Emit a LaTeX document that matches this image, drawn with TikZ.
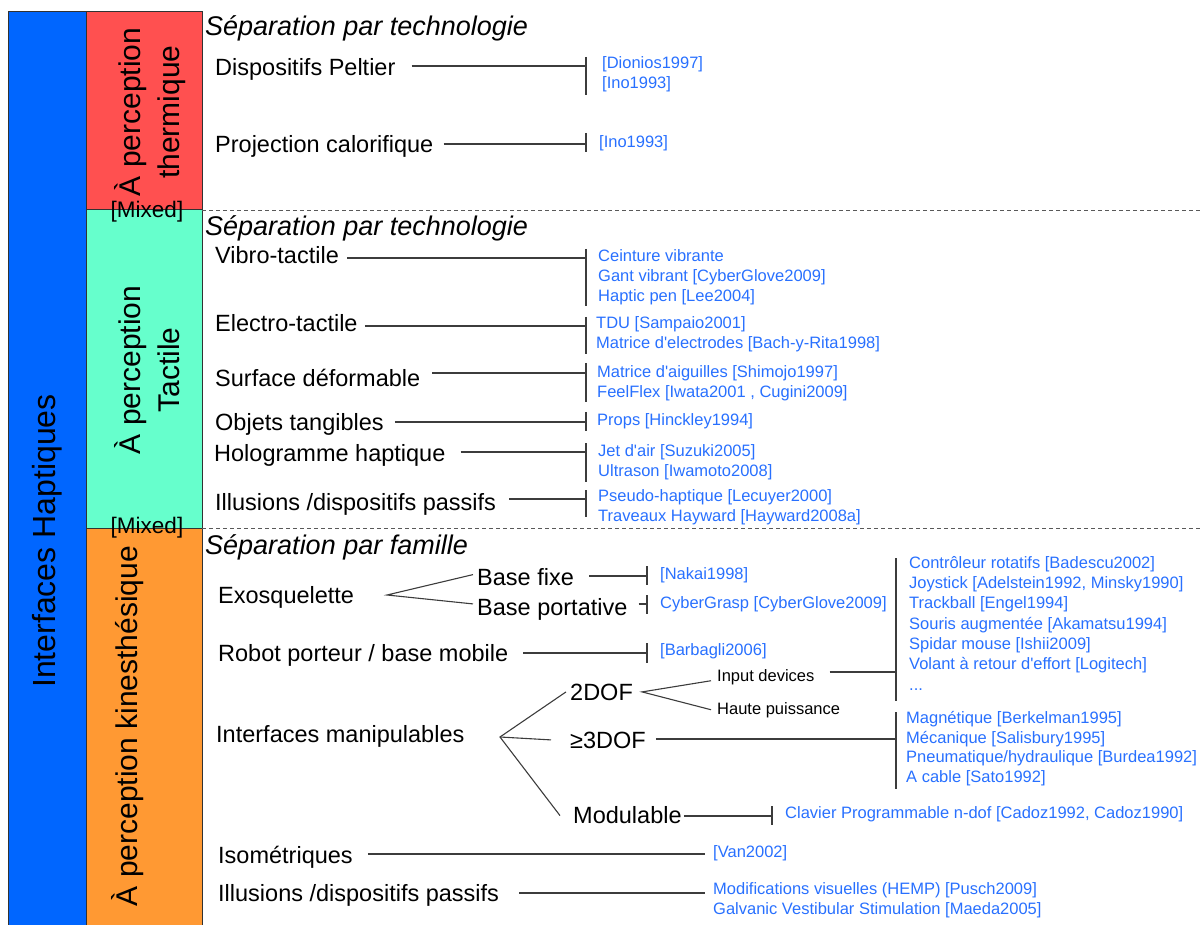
\documentclass[tikz,border=0pt]{standalone}
\usepackage{fontspec}
\setmainfont{Liberation Sans}
\usetikzlibrary{calc}
\definecolor{hblue}{RGB}{0,102,255}
\definecolor{hred}{RGB}{255,80,80}
\definecolor{hgreen}{RGB}{102,255,204}
\definecolor{horange}{RGB}{255,153,51}
\definecolor{refblue}{RGB}{40,112,255}
\definecolor{linegray}{RGB}{60,60,60}
\definecolor{boxgray}{RGB}{50,50,50}
\begin{document}
\begin{tikzpicture}[x=1pt,y=-1pt,
  lab/.style={anchor=base west,inner sep=0pt,font=\fontsize{23.5}{28}\selectfont},
  sub/.style={anchor=base west,inner sep=0pt,font=\fontsize{16.5}{20}\selectfont},
  ref/.style={anchor=north west,inner sep=0pt,align=left,text=refblue,font=\fontsize{16.5}{20.3}\selectfont},
  hdr/.style={anchor=base west,inner sep=0pt,font=\fontsize{27}{30}\selectfont\itshape},
  conn/.style={draw=linegray,line width=1.1pt},
  box/.style={draw=boxgray,line width=1pt},
  sep/.style={draw=gray!70!black,line width=0.8pt,dash pattern=on 4pt off 3pt},
  vlab/.style={rotate=90,inner sep=0pt,align=center,font=\fontsize{30}{39}\selectfont},
  mixed/.style={inner sep=0pt,font=\fontsize{22.5}{24}\selectfont}
]
\useasboundingbox (0,0) rectangle (1203,925);

% coloured columns
\draw[box,fill=hblue] (8,12) rectangle (86,935);
\draw[box,fill=hred] (86,12) rectangle (202,210);
\draw[box,fill=hgreen] (86,210) rectangle (202,528);
\draw[box,fill=horange] (86,528) rectangle (202,935);
\draw[sep] (202,210) -- (1203,210);
\draw[sep] (202,528) -- (1203,528);

\node[vlab,font=\fontsize{32}{39}\selectfont] (hapt) at (47,541) {Interfaces Haptiques};
\node[vlab] (therm) at (150,112) {À perception\\thermique};
\node[vlab] (tact) at (147,370) {À perception\\Tactile};
\node[vlab] (kine) at (128,726) {À perception kinesthésique};
\node[mixed] (mix1) at (147,212) {[Mixed]};
\node[mixed] (mix2) at (147,528) {[Mixed]};

% ---------- thermique ----------
\node[hdr] (h1) at (205,36) {Séparation par technologie};
\node[lab] (pel) at (215,76) {Dispositifs Peltier};
\node[lab] (proj) at (215,153) {Projection calorifique};
\node[ref] (rpel) at (602,56) {[Dionios1997]\\{[}Ino1993]};
\node[ref] (rproj) at (599,135) {[Ino1993]};
\coordinate (bpel) at (586,66);
\coordinate (bproj) at (586,144);
\draw[conn] ($(pel.east|-bpel)+(16,0)$) -- (bpel);
\draw[conn] (586,57) -- (586,95);
\draw[conn] ($(proj.east|-bproj)+(10,0)$) -- (bproj);
\draw[conn] (586,133) -- (586,152);

% ---------- tactile ----------
\node[hdr] (h2) at (205,236) {Séparation par technologie};
\node[lab] (vib) at (215,264) {Vibro-tactile};
\node[lab] (ele) at (215,332) {Electro-tactile};
\node[lab] (surf) at (215,387) {Surface déformable};
\node[lab] (obj) at (215,431) {Objets tangibles};
\node[lab] (holo) at (214,461) {Hologramme haptique};
\node[lab] (illa) at (215,510) {Illusions /dispositifs passifs};

\node[ref] (rvib) at (598,249) {Ceinture vibrante\\Gant vibrant [CyberGlove2009]\\Haptic pen [Lee2004]};
\node[ref] (rele) at (596,316) {TDU [Sampaio2001]\\Matrice d\textquotesingle electrodes [Bach-y-Rita1998]};
\node[ref] (rsurf) at (597,365) {Matrice d\textquotesingle aiguilles [Shimojo1997]\\FeelFlex [Iwata2001 , Cugini2009]};
\node[ref] (robj) at (597,413) {Props [Hinckley1994]};
\node[ref] (rholo) at (598,444) {Jet d\textquotesingle air [Suzuki2005]\\Ultrason [Iwamoto2008]};
\node[ref] (rilla) at (598,489) {Pseudo-haptique [Lecuyer2000]\\Traveaux Hayward [Hayward2008a]};

\coordinate (bvib) at (586,258);
\coordinate (bele) at (586,326);
\coordinate (bsurf) at (586,373);
\coordinate (bobj) at (586,422);
\coordinate (bholo) at (586,452);
\coordinate (billa) at (586,499);
\draw[conn] ($(vib.east|-bvib)+(8,0)$) -- (bvib);
\draw[conn] (586,249) -- (586,306);
\draw[conn] ($(ele.east|-bele)+(7,0)$) -- (bele);
\draw[conn] (586,317) -- (586,354);
\draw[conn] ($(surf.east|-bsurf)+(12,0)$) -- (bsurf);
\draw[conn] (586,363) -- (586,402);
\draw[conn] ($(obj.east|-bobj)+(11,0)$) -- (bobj);
\draw[conn] (586,412) -- (586,431);
\draw[conn] ($(holo.east|-bholo)+(15,0)$) -- (bholo);
\draw[conn] (586,443) -- (586,482);
\draw[conn] ($(illa.east|-billa)+(13,0)$) -- (billa);
\draw[conn] (586,490) -- (586,517);

% ---------- kinesthesique ----------
\node[hdr] (h3) at (205,554) {Séparation par famille};
\node[lab] (exo) at (218,603) {Exosquelette};
\node[lab] (bfix) at (477,585) {Base fixe};
\node[lab] (bport) at (477,615) {Base portative};
\node[lab] (robot) at (218,661) {Robot porteur / base mobile};
\node[lab] (dof2) at (570,700) {2DOF};
\node[sub] (inp) at (717,681) {Input devices};
\node[sub] (haute) at (717,714) {Haute puissance};
\node[lab] (manip) at (216,742) {Interfaces manipulables};
\node[lab] (dof3) at (570,748) {≥3DOF};
\node[lab] (modu) at (573,823) {Modulable};
\node[lab] (iso) at (218,863) {Isométriques};
\node[lab] (illb) at (218,901) {Illusions /dispositifs passifs};

\node[ref] (rbfix) at (660,567) {[Nakai1998]};
\node[ref] (rbport) at (660,596) {CyberGrasp [CyberGlove2009]};
\node[ref] (rrobot) at (660,643) {[Barbagli2006]};
\node[ref] (rinp) at (909,556) {Contrôleur rotatifs [Badescu2002]\\Joystick [Adelstein1992, Minsky1990]\\Trackball [Engel1994]\\Souris augmentée [Akamatsu1994]\\Spidar mouse [Ishii2009]\\Volant à retour d\textquotesingle effort [Logitech]\\...};
\node[ref,font=\fontsize{16.5}{19.8}\selectfont] (rdof3) at (906,711) {Magnétique [Berkelman1995]\\Mécanique [Salisbury1995]\\Pneumatique/hydraulique [Burdea1992]\\A cable [Sato1992]};
\node[ref] (rmodu) at (785,806) {Clavier Programmable n-dof [Cadoz1992, Cadoz1990]};
\node[ref] (riso) at (713,845) {[Van2002]};
\node[ref] (rillb) at (713,882) {Modifications visuelles (HEMP) [Pusch2009]\\Galvanic Vestibular Stimulation [Maeda2005]};

% branches
\coordinate (exoj) at (387,595);
\draw[conn] ($(bfix.west)+(-4,-2)$) -- (exoj) -- ($(bport.west)+(-4,-5)$);
\coordinate (manj) at (500,737);
\draw[conn] ($(dof2.west)+(-4,0)$) -- (manj) -- ($(modu.west)+(-13,1)$);
\draw[conn] (manj) -- ($(dof3.west)+(-19,0)$);
\coordinate (dofj) at ($(dof2.east)+(9,0)$);
\draw[conn] ($(inp.west)+(-6,4)$) -- (dofj) -- ($(haute.west)+(-6,0)$);

% bracket connectors
\coordinate (bbfix) at (647,576);
\coordinate (bbport) at (647,604);
\coordinate (brobot) at (647,653);
\coordinate (binp) at (896,672);
\coordinate (bdof3) at (896,739);
\coordinate (bmodu) at (772,816);
\coordinate (eiso) at (705,854);
\coordinate (eillb) at (705,893);
\draw[conn] ($(bfix.east|-bbfix)+(15,0)$) -- (bbfix);
\draw[conn] (647,566) -- (647,585);
\draw[conn] ($(bport.east|-bbport)+(11,0)$) -- (bbport);
\draw[conn] (647,595) -- (647,614);
\draw[conn] ($(robot.east|-brobot)+(15,0)$) -- (brobot);
\draw[conn] (647,643) -- (647,663);
\draw[conn] ($(inp.east|-binp)+(15,0)$) -- (binp);
\draw[conn] (896,558) -- (896,701);
\draw[conn] ($(dof3.east|-bdof3)+(10,0)$) -- (bdof3);
\draw[conn] (896,712) -- (896,789);
\draw[conn] ($(modu.east|-bmodu)+(2,0)$) -- (bmodu);
\draw[conn] (772,806) -- (772,825);
\draw[conn] ($(iso.east|-eiso)+(15,0)$) -- (eiso);
\draw[conn] ($(illb.east|-eillb)+(20,0)$) -- (eillb);
\end{tikzpicture}
\end{document}
